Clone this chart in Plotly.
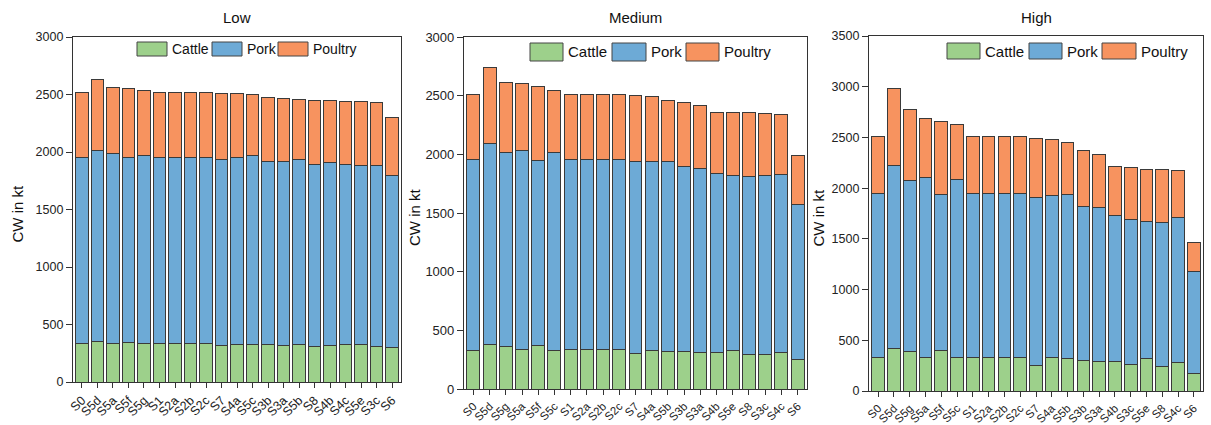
import plotly.graph_objects as go

# ---------------- data ----------------
low_cats = ["S0", "S5d", "S5a", "S5f", "S5g", "S1", "S2a", "S2b", "S2c", "S7", "S4a",
            "S5c", "S3b", "S3a", "S5b", "S8", "S4b", "S4c", "S5e", "S3c", "S6"]
low_cattle = [333, 350, 333, 344, 338, 333, 333, 333, 333, 318, 330,
              324, 324, 318, 324, 312, 318, 324, 330, 309, 298]
low_total_pork = [1948, 2015, 1989, 1948, 1971, 1948, 1948, 1948, 1948, 1939, 1948,
                  1971, 1920, 1915, 1935, 1895, 1905, 1895, 1885, 1885, 1795]
low_total = [2515, 2632, 2557, 2548, 2537, 2515, 2515, 2515, 2515, 2510, 2507,
             2500, 2474, 2466, 2458, 2450, 2447, 2440, 2435, 2429, 2304]

med_cats = ["S0", "S5d", "S5g", "S5a", "S5f", "S5c", "S1", "S2a", "S2b", "S2c", "S7",
            "S4a", "S5b", "S3b", "S3a", "S4b", "S5e", "S8", "S3c", "S4c", "S6"]
med_cattle = [332, 380, 358, 335, 369, 324, 335, 335, 335, 335, 304,
              329, 321, 318, 312, 309, 324, 290, 298, 307, 252]
med_total_pork = [1955, 2090, 2014, 2031, 1949, 2017, 1955, 1955, 1955, 1955, 1938,
                  1941, 1938, 1893, 1882, 1837, 1817, 1812, 1823, 1829, 1573]
med_total = [2514, 2744, 2615, 2601, 2582, 2542, 2514, 2514, 2514, 2514, 2503,
             2495, 2461, 2441, 2419, 2354, 2354, 2354, 2348, 2337, 1992]

high_cats = ["S0", "S5d", "S5g", "S5a", "S5f", "S5c", "S1", "S2a", "S2b", "S2c", "S7",
             "S4a", "S5b", "S3b", "S3a", "S4b", "S3c", "S5e", "S8", "S4c", "S6"]
high_cattle = [335, 421, 389, 335, 401, 326, 335, 335, 335, 335, 250,
               329, 322, 303, 290, 286, 263, 319, 244, 283, 172]
high_total_pork = [1951, 2227, 2076, 2109, 1941, 2086, 1951, 1951, 1951, 1951, 1908,
                   1928, 1934, 1822, 1806, 1730, 1691, 1667, 1658, 1707, 1178]
high_total = [2513, 2983, 2776, 2688, 2661, 2628, 2513, 2513, 2513, 2513, 2490,
              2480, 2451, 2368, 2329, 2214, 2201, 2185, 2185, 2178, 1464]

series_names = ["Cattle", "Pork", "Poultry"]
panel_titles = ["Low", "Medium", "High"]
y_max = [3000, 3000, 3500]
y_title = "CW in kt"

colors = {"Cattle": "#9DD08B", "Pork": "#6DAAD6", "Poultry": "#F7935F"}
FONT = "Arial, Liberation Sans, sans-serif"

panels = [
    (low_cats, low_cattle, low_total_pork, low_total),
    (med_cats, med_cattle, med_total_pork, med_total),
    (high_cats, high_cattle, high_total_pork, high_total),
]

W, H = 1211, 425
# pixel boxes of each plot area (left, right, top, bottom)
boxes = [(73, 401, 37, 382), (464, 807, 37, 389), (869, 1203, 36, 391)]
ytitle_x = [17, 414, 818]
ytick_fs = [12.5, 13, 12.5]
xtick_fs = [12.5, 11.5, 11.5]

fig = go.Figure()
annotations = []
shapes = []

for i, (cats, cattle, tp, tot) in enumerate(panels):
    pork = [a - b for a, b in zip(tp, cattle)]
    poultry = [a - b for a, b in zip(tot, tp)]
    xa = "x" if i == 0 else f"x{i+1}"
    ya = "y" if i == 0 else f"y{i+1}"
    for name, vals in zip(series_names, [cattle, pork, poultry]):
        fig.add_trace(go.Bar(
            x=cats, y=vals, name=name, xaxis=xa, yaxis=ya,
            marker=dict(color=colors[name], line=dict(color="#3a3a3a", width=1)),
            showlegend=False,
        ))
    l, r, t, b = boxes[i]
    xd = [l / W, r / W]
    yd = [1 - b / H, 1 - t / H]
    axkey = "" if i == 0 else str(i + 1)
    fig.layout["xaxis" + axkey] = dict(
        domain=xd, anchor=ya, type="category", categoryorder="array", categoryarray=cats,
        range=[-0.58, len(cats) - 0.42], automargin=False,
        showline=True, linecolor="#333", linewidth=1.2, mirror=True,
        ticks="outside", ticklen=5, tickcolor="#333", tickangle=-45,
        tickfont=dict(family=FONT, size=xtick_fs[i], color="#222"), showgrid=False, zeroline=False,
    )
    fig.layout["yaxis" + axkey] = dict(
        domain=yd, anchor=xa, range=[0, y_max[i]], dtick=500, automargin=False,
        showline=True, linecolor="#333", linewidth=1.2, mirror=True,
        ticks="outside", ticklen=6, tickcolor="#333",
        tickfont=dict(family=FONT, size=ytick_fs[i], color="#222"), showgrid=False, zeroline=False,
    )
    # panel title
    annotations.append(dict(
        text=panel_titles[i], x=(xd[0] + xd[1]) / 2, y=1 - 17 / H, xref="paper", yref="paper",
        showarrow=False, font=dict(family=FONT, size=15, color="#111"),
        xanchor="center", yanchor="middle"))
    # y title
    annotations.append(dict(
        text=y_title, x=ytitle_x[i] / W, y=1 - ((t + b) / 2 + 4) / H, xref="paper", yref="paper",
        showarrow=False, textangle=-90, font=dict(family=FONT, size=15, color="#111"),
        xanchor="center", yanchor="middle"))

# custom legends (swatch left/right in pixels, y range, font size)
legend_px = [
    ([(137, 167), (212, 242), (278, 308)], (42, 56), 14),
    ([(530, 563), (612, 646), (686, 719)], (43, 61), 15),
    ([(947, 980), (1029, 1062), (1102, 1136)], (43, 59), 15),
]
for (sw, (yt, yb), fs) in legend_px:
    for (x0, x1), name in zip(sw, series_names):
        shapes.append(dict(
            type="rect", xref="paper", yref="paper",
            x0=x0 / W, x1=x1 / W, y0=1 - yb / H, y1=1 - yt / H,
            fillcolor=colors[name], line=dict(color="#444", width=1)))
        annotations.append(dict(
            text=name, x=(x1 + 3) / W, y=1 - ((yt + yb) / 2) / H, xref="paper", yref="paper",
            showarrow=False, xanchor="left", yanchor="middle",
            font=dict(family=FONT, size=fs, color="#111")))

fig.update_layout(
    width=W, height=H, margin=dict(l=0, r=0, t=0, b=0, autoexpand=False),
    barmode="stack", bargap=0.2,
    plot_bgcolor="white", paper_bgcolor="white",
    annotations=annotations, shapes=shapes,
    font=dict(family=FONT),
)

fig.write_html("out.html")
